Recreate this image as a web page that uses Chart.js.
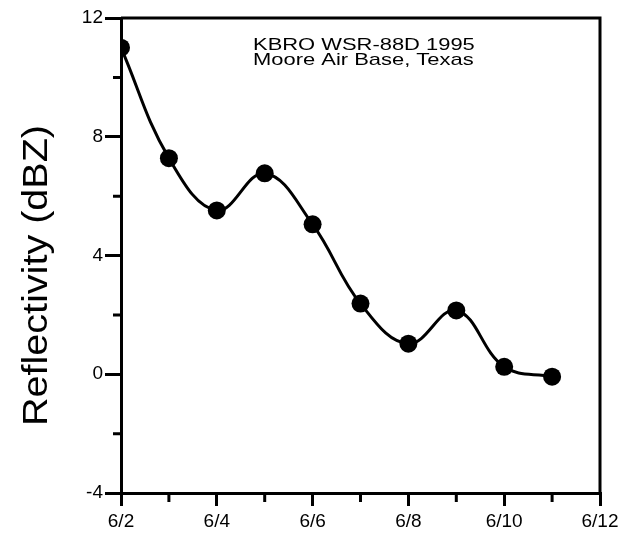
<!DOCTYPE html>
<html>
<head>
<meta charset="utf-8">
<script src="https://cdn.jsdelivr.net/npm/chart.js@4/dist/chart.umd.min.js"></script>
<style>
  html, body { margin: 0; padding: 0; background: #fff; }
  #wrap { width: 644px; height: 540px; }
</style>
</head>
<body>
<div id="wrap"><canvas id="chart"></canvas></div>
<script>
// day of June for each sample
const days = [2, 3, 4, 5, 6, 7, 8, 9, 10, 11];
// reflectivity in dBZ
const reflectivity = [11.0, 7.28, 5.52, 6.77, 5.05, 2.38, 1.03, 2.15, 0.25, -0.08];
const yTicks = [-4, 0, 4, 8, 12];
const xTicks = [2, 4, 6, 8, 10, 12];
const yMinor = [-2, 2, 6, 10];
const xMinor = [3, 5, 7, 9, 11];
const noteLines = ['KBRO WSR-88D 1995', 'Moore Air Base, Texas'];
const yTitle = 'Reflectivity (dBZ)';

const FONT = "'Liberation Sans', Arial, sans-serif";

// frame, minor ticks, note and y title
const decorations = {
    id: 'decorations',
    afterDraw(chart) {
        const ctx = chart.ctx;
        const area = chart.chartArea;
        const xs = chart.scales.x;
        const ys = chart.scales.y;
        ctx.save();
        ctx.strokeStyle = '#000';
        ctx.lineWidth = 3;
        ctx.beginPath();
        ctx.moveTo(area.left, area.top);
        ctx.lineTo(area.right, area.top);
        ctx.lineTo(area.right, area.bottom);
        ctx.stroke();

        // minor ticks
        ctx.beginPath();
        yMinor.forEach(v => {
            const py = ys.getPixelForValue(v);
            ctx.moveTo(area.left - 8, py);
            ctx.lineTo(area.left, py);
        });
        xMinor.forEach(v => {
            const px = xs.getPixelForValue(v);
            ctx.moveTo(px, area.bottom);
            ctx.lineTo(px, area.bottom + 9);
        });
        ctx.stroke();

        // note text (the source figure has wide lettering)
        ctx.fillStyle = '#000';
        ctx.font = '17px ' + FONT;
        ctx.textAlign = 'left';
        ctx.textBaseline = 'alphabetic';
        noteLines.forEach((line, i) => {
            ctx.save();
            ctx.translate(area.left + 132, area.top + 32 + i * 15);
            ctx.scale(1.29, 1);
            ctx.fillText(line, 0, 0);
            ctx.restore();
        });

        // y title
        ctx.save();
        ctx.font = '35px ' + FONT;
        ctx.textAlign = 'center';
        ctx.translate(47, (area.top + area.bottom) / 2 + 20);
        ctx.rotate(-Math.PI / 2);
        ctx.scale(1.13, 1);
        ctx.fillText(yTitle, 0, 0);
        ctx.restore();

        ctx.restore();
    }
};

const ctx = document.getElementById('chart').getContext('2d');
new Chart(ctx, {
    type: 'line',
    data: {
        datasets: [{
            data: days.map((d, i) => ({ x: d, y: reflectivity[i] })),
            borderColor: '#000',
            backgroundColor: '#000',
            borderWidth: 3,
            tension: 0.4,
            pointRadius: 9,
            pointHoverRadius: 9,
            pointBackgroundColor: '#000',
            pointBorderWidth: 0,
            fill: false
        }]
    },
    options: {
        responsive: true,
        maintainAspectRatio: false,
        animation: false,
        layout: { padding: { left: 0, right: 44, top: 18, bottom: 0 } },
        plugins: {
            legend: { display: false },
            tooltip: { enabled: false }
        },
        scales: {
            x: {
                type: 'linear',
                min: 2,
                max: 12,
                afterBuildTicks: scale => { scale.ticks = xTicks.map(v => ({ value: v })); },
                afterFit: scale => { scale.height = 47; },
                ticks: {
                    color: '#000',
                    font: { family: FONT, size: 19 },
                    padding: 4,
                    maxRotation: 0,
                    callback: v => '6/' + v
                },
                grid: {
                    drawOnChartArea: false,
                    color: '#000',
                    lineWidth: 3,
                    tickLength: 13
                },
                border: { color: '#000', width: 3 }
            },
            y: {
                min: -4,
                max: 12,
                afterBuildTicks: scale => { scale.ticks = yTicks.map(v => ({ value: v })); },
                afterFit: scale => { scale.width = 121; },
                ticks: {
                    color: '#000',
                    font: { family: FONT, size: 19 },
                    padding: 2
                },
                grid: {
                    drawOnChartArea: false,
                    color: '#000',
                    lineWidth: 3,
                    tickLength: 16
                },
                border: { color: '#000', width: 3 }
            }
        }
    },
    plugins: [decorations]
});
</script>
</body>
</html>
